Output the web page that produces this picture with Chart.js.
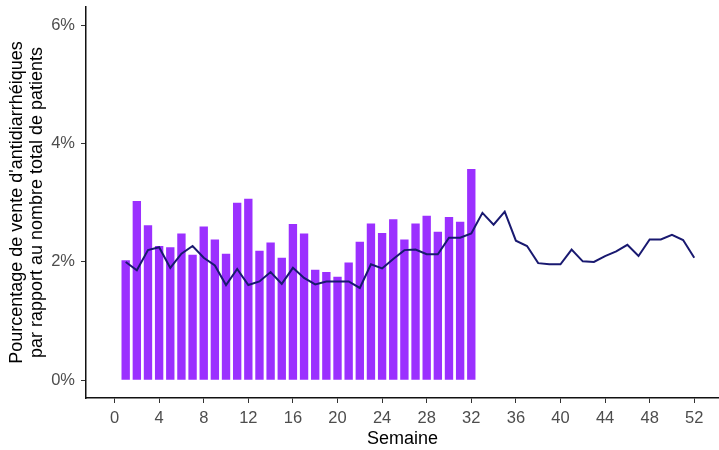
<!DOCTYPE html>
<html>
<head>
<meta charset="utf-8">
<script src="https://cdn.jsdelivr.net/npm/chart.js@4"></script>
<style>
  html, body { margin: 0; padding: 0; background: #fff; }
  #wrap { width: 719px; height: 450px; }
</style>
</head>
<body>
<div id="wrap"><canvas id="chart" width="719" height="450"></canvas></div>
<script>
// weeks and values (% of patients)
const barWeeks = [1, 2, 3, 4, 5, 6, 7, 8, 9, 10, 11, 12, 13, 14, 15, 16,
  17, 18, 19, 20, 21, 22, 23, 24, 25, 26, 27, 28, 29, 30, 31, 32];
const barValues = [2.03, 3.03, 2.62, 2.27, 2.25, 2.48, 2.12, 2.60, 2.38, 2.14, 3.00, 3.07, 2.19, 2.33, 2.07, 2.64,
  2.48, 1.87, 1.83, 1.75, 1.99, 2.34, 2.65, 2.49, 2.72, 2.38, 2.65, 2.78, 2.51, 2.76, 2.68, 3.57];

const lineWeeks = [1, 2, 3, 4, 5, 6, 7, 8, 9, 10, 11, 12, 13, 14, 15, 16, 17, 18, 19, 20, 21, 22, 23, 24, 25, 26,
  27, 28, 29, 30, 31, 32, 33, 34, 35, 36, 37, 38, 39, 40, 41, 42, 43, 44, 45, 46, 47, 48, 49, 50, 51, 52];
const lineValues = [2.00, 1.86, 2.20, 2.25, 1.90, 2.14, 2.27, 2.07, 1.94, 1.61, 1.88, 1.61, 1.67, 1.83, 1.63, 1.90,
  1.73, 1.62, 1.67, 1.67, 1.67, 1.56, 1.96, 1.89, 2.05, 2.20, 2.21, 2.13, 2.13, 2.41, 2.41, 2.48,
  2.83, 2.63, 2.85, 2.36, 2.27, 1.98, 1.96, 1.96, 2.21, 2.01, 2.00, 2.10, 2.18, 2.29, 2.10, 2.38,
  2.38, 2.46, 2.37, 2.07];

const xTicks = [0, 4, 8, 12, 16, 20, 24, 28, 32, 36, 40, 44, 48, 52];
const yTicks = [0, 2, 4, 6];

const font = "'Liberation Sans', Arial, sans-serif";

new Chart(document.getElementById("chart"), {
  type: "bar",
  data: {
    datasets: [
      {
        type: "line",
        data: lineWeeks.map((w, i) => ({ x: w, y: lineValues[i] })),
        borderColor: "#191970",
        borderWidth: 2,
        pointRadius: 0,
        tension: 0,
        order: 0,
      },
      {
        type: "bar",
        data: barWeeks.map((w, i) => ({ x: w, y: barValues[i] })),
        backgroundColor: "#9B30FF",
        borderWidth: 0,
        barPercentage: 0.75,
        categoryPercentage: 1,
        order: 1,
      },
    ],
  },
  options: {
    responsive: false,
    animation: false,
    layout: { padding: { top: 7, right: 0, left: 0, bottom: 0 } },
    plugins: {
      legend: { display: false },
      tooltip: { enabled: false },
    },
    scales: {
      x: {
        type: "linear",
        offset: false,
        min: -2.56,
        max: 54.22,
        grid: { offset: false, drawOnChartArea: false, drawTicks: true, tickLength: 5, color: "#333333" },
        border: { display: true, color: "#111111", width: 1.5 },
        afterBuildTicks: (s) => { s.ticks = xTicks.map((v) => ({ value: v })); },
        afterFit: (s) => { s.height = 52; s.paddingLeft = 0; s.paddingRight = 0; },
        ticks: {
          padding: 6,
          maxRotation: 0,
          autoSkip: false,
          color: "#4d4d4d",
          font: { family: font, size: 16.5 },
          callback: (v) => String(v),
        },
        title: {
          display: true,
          text: "Semaine",
          color: "#000000",
          font: { family: font, size: 18, lineHeight: "20px" },
          padding: { top: 0, bottom: 1 },
        },
      },
      y: {
        min: -0.3,
        max: 6.31,
        grid: { drawOnChartArea: false, drawTicks: true, tickLength: 5, color: "#333333" },
        border: { display: true, color: "#111111", width: 1.5 },
        afterBuildTicks: (s) => { s.ticks = yTicks.map((v) => ({ value: v })); },
        afterFit: (s) => { s.width = 86; s.paddingTop = 0; s.paddingBottom = 0; },
        ticks: {
          padding: 6,
          color: "#4d4d4d",
          font: { family: font, size: 16.5 },
          callback: (v) => v + "%",
        },
        title: {
          display: true,
          text: ["Pourcentage de vente d'antidiarrhéiques", "par rapport au nombre total de patients"],
          color: "#000000",
          font: { family: font, size: 18, lineHeight: "20px" },
          padding: { top: 7, bottom: 0 },
        },
      },
    },
  },
});
</script>
</body>
</html>
